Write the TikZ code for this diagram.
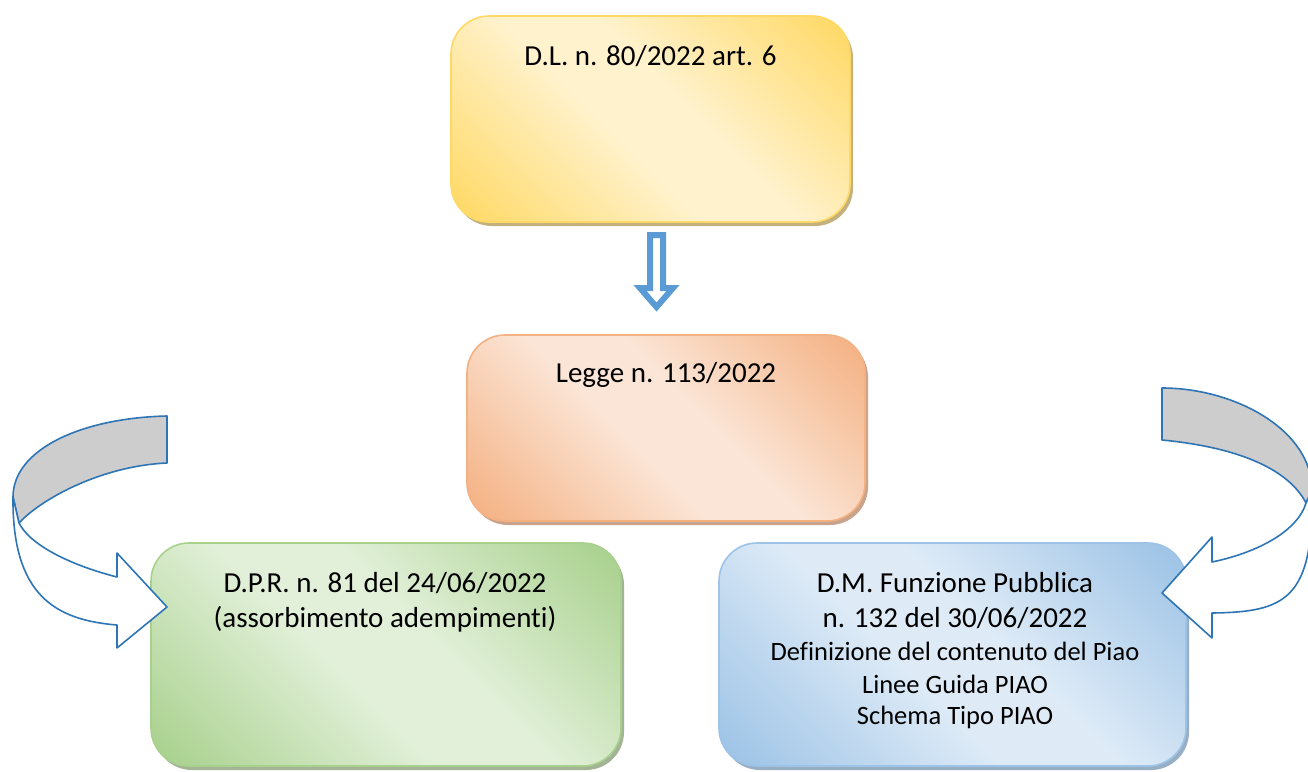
\documentclass[tikz,border=0pt]{standalone}
\usepackage{fontspec}
\setmainfont{Carlito}[Ligatures=NoCommon]
\usetikzlibrary{shadows,calc}

% fill colours: dark edge tone / light centre tone
\definecolor{ydk}{HTML}{FFD966}\definecolor{ylt}{HTML}{FFF2CC}
\definecolor{odk}{HTML}{F4B183}\definecolor{olt}{HTML}{FBE5D6}
\definecolor{gdk}{HTML}{A9D18E}\definecolor{glt}{HTML}{E2F0D9}
\definecolor{bdk}{HTML}{9DC3E6}\definecolor{blt}{HTML}{DEEBF7}
% shadow tones
\definecolor{ysh}{HTML}{C4B27E}\definecolor{osh}{HTML}{C9A38B}
\definecolor{gsh}{HTML}{A2B396}\definecolor{bsh}{HTML}{97AEC4}
% arrows
\definecolor{arrowblue}{HTML}{5B9BD5}
\definecolor{ribbonline}{HTML}{2E75B6}
\definecolor{ribbongray}{HTML}{CDCDCD}

\pgfdeclareverticalshading{yshade}{100bp}{color(0bp)=(ydk); color(16bp)=(ydk); color(44bp)=(ylt); color(56bp)=(ylt); color(84bp)=(ydk); color(100bp)=(ydk)}
\pgfdeclareverticalshading{oshade}{100bp}{color(0bp)=(odk); color(16bp)=(odk); color(44bp)=(olt); color(56bp)=(olt); color(84bp)=(odk); color(100bp)=(odk)}
\pgfdeclareverticalshading{gshade}{100bp}{color(0bp)=(gdk); color(16bp)=(gdk); color(44bp)=(glt); color(56bp)=(glt); color(84bp)=(gdk); color(100bp)=(gdk)}
\pgfdeclareverticalshading{bshade}{100bp}{color(0bp)=(bdk); color(16bp)=(bdk); color(44bp)=(blt); color(56bp)=(blt); color(84bp)=(bdk); color(100bp)=(bdk)}

\tikzset{
  box/.style={rectangle, rounded corners=38pt, inner sep=0pt, line width=1.6pt},
  ybox/.style={box, draw=ydk, shading=yshade, shading angle=135,
    drop shadow={shadow xshift=3pt, shadow yshift=-4pt, fill=ysh, opacity=1}},
  obox/.style={box, draw=odk, shading=oshade, shading angle=135,
    drop shadow={shadow xshift=3pt, shadow yshift=-4pt, fill=osh, opacity=1}},
  gbox/.style={box, draw=gdk, shading=gshade, shading angle=135,
    drop shadow={shadow xshift=3pt, shadow yshift=-4pt, fill=gsh, opacity=1}},
  bbox/.style={box, draw=bdk, shading=bshade, shading angle=135,
    drop shadow={shadow xshift=3pt, shadow yshift=-4pt, fill=bsh, opacity=1}},
  big/.style={font=\fontsize{29}{35}\selectfont, inner sep=0pt, anchor=base},
  small/.style={font=\fontsize{26.5}{32}\selectfont, inner sep=0pt, anchor=base},
  ribbon/.style={draw=ribbonline, line width=1.6pt, line join=round},
  blockarrow/.style={draw=arrowblue, fill=white, line width=6pt, line join=miter},
}

\begin{document}
\begin{tikzpicture}[x=1pt, y=-1pt]
\path[use as bounding box] (0,0) rectangle (1308,771);

% boxes
\node[ybox, minimum width=399pt, minimum height=206pt] (dl)  at (650.5,119)   {};
\node[obox, minimum width=398pt, minimum height=186pt] (lg)  at (666,428)     {};
\node[gbox, minimum width=470pt, minimum height=223pt] (dpr) at (386,654.5)   {};
\node[bbox, minimum width=467pt, minimum height=223pt] (dm)  at (952.5,654.5) {};

% labels
\node[big] (tdl) at (650.5,65) {D.L. n. 80/2022 art. 6};
\node[big] (tlg) at (666,382) {Legge n. 113/2022};
\node[big] (tdpra) at (385,592) {D.P.R. n. 81 del 24/06/2022};
\node[big] (tdprb) at (385,627) {(assorbimento adempimenti)};
\node[big] (tdma) at (955,592) {D.M. Funzione Pubblica};
\node[big] (tdmb) at (955,627) {n. 132 del 30/06/2022};
\node[small] (tdmc) at (955,660) {Definizione del contenuto del Piao};
\node[small] (tdmd) at (955,693) {Linee Guida PIAO};
\node[small] (tdme) at (955,724) {Schema Tipo PIAO};

% hollow block arrow from the decree to the law
\coordinate (atop) at (656.5,235);
\draw[blockarrow] ($(atop)+(-6.5,0)$) -- ++(13,0) -- ++(0,53) -- ++(10,0)
  -- ($(atop)+(0,72)$) -- ($(atop)+(-16.5,53)$) -- ++(10,0) -- cycle;

% curved ribbon arrow on the left
\draw[ribbon, fill=ribbongray] (167,416) .. controls (80,418) and (13,450) .. (13,497)
  -- (19,523) .. controls (40,500) and (100,466) .. (167,463) -- cycle;
\draw[ribbon, fill=white] (13,497) .. controls (12,595) and (55,620) .. (117,625)
  -- (117,648) -- (167,607) -- (117,553) -- (117,577)
  .. controls (70,565) and (30,545) .. (19,523) -- cycle;

% curved ribbon arrow on the right
\draw[ribbon, fill=ribbongray] (1162,388) .. controls (1235,388) and (1312,430) .. (1312,490)
  -- (1306,503) .. controls (1290,472) and (1245,448) .. (1162,440) -- cycle;
\draw[ribbon, fill=white] (1312,490) .. controls (1314,600) and (1285,612) .. (1212,613)
  -- (1212,638) -- (1162,593) -- (1212,537) -- (1212,562)
  .. controls (1260,552) and (1298,530) .. (1306,503) -- cycle;
\end{tikzpicture}
\end{document}
